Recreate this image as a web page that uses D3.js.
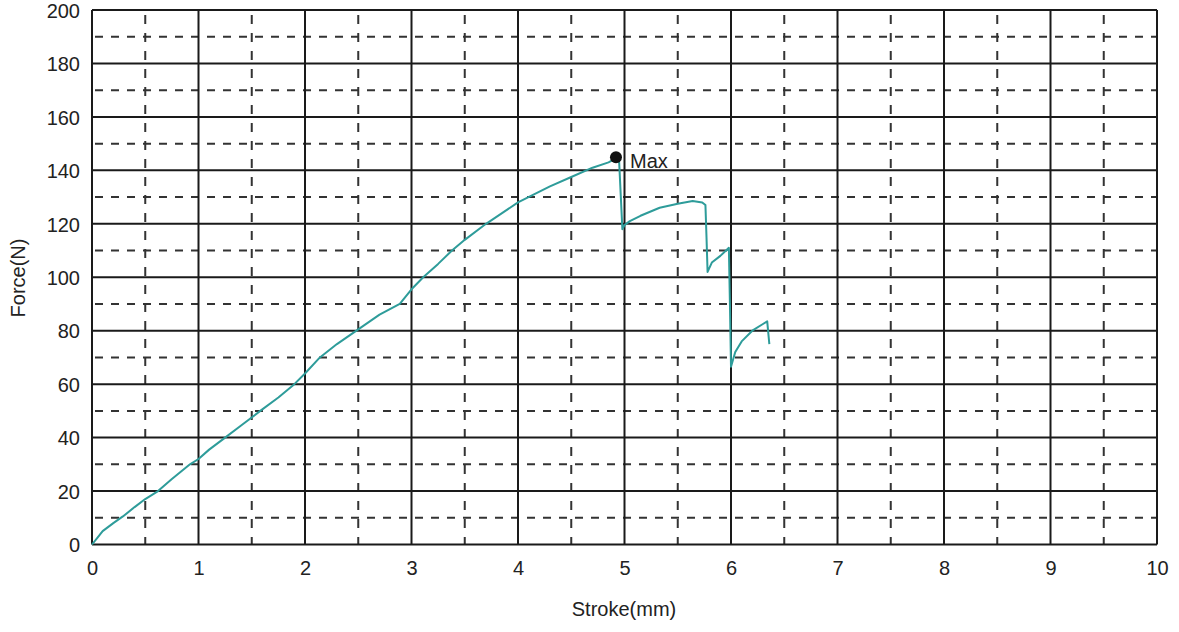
<!DOCTYPE html>
<html>
<head>
<meta charset="utf-8">
<script src="https://cdn.jsdelivr.net/npm/d3@7"></script>
<style>
  body { margin: 0; background: #fff; }
  svg { display: block; font-family: "Liberation Sans", Arial, sans-serif; }
  .tick text { fill: #222; font-size: 20px; }
</style>
</head>
<body>
<div id="chart"></div>
<script>
// stroke (mm) / force (N)
var strokeMm = [0, 0.05, 0.1, 0.2, 0.29, 0.4, 0.5, 0.62, 0.75, 0.92, 1.0, 1.1, 1.25, 1.4, 1.58, 1.75, 1.9, 2.0,
  2.14, 2.3, 2.5, 2.7, 2.89, 3.0, 3.11, 3.25, 3.38, 3.5, 3.7, 3.85, 4.0, 4.15, 4.3, 4.5, 4.7, 4.85, 4.92,
  4.95, 4.98, 5.0, 5.05, 5.15, 5.33, 5.5, 5.64, 5.73, 5.76, 5.77, 5.78, 5.82, 5.9, 5.98, 5.99, 6.0,
  6.04, 6.1, 6.2, 6.3, 6.34, 6.36];
var forceN = [0, 2.5, 5, 8, 10.5, 14, 17, 20, 24.5, 30, 32, 35.5, 40, 44.5, 50, 55, 60, 64,
  70, 75, 80.5, 86, 90, 95.5, 100, 105, 110, 114, 120, 124, 128, 131, 134, 137.5, 141, 143, 144.5,
  143, 118, 119.5, 121, 123, 126, 127.5, 128.5, 128, 127, 115, 102, 105.5, 108, 111, 90, 66.5,
  72, 76, 80, 82.5, 83.5, 75];
var maxPoint = [4.92, 144.9];
var xMajor = [0, 1, 2, 3, 4, 5, 6, 7, 8, 9, 10];
var yMajor = [0, 20, 40, 60, 80, 100, 120, 140, 160, 180, 200];
var xMinor = [0.5, 1.5, 2.5, 3.5, 4.5, 5.5, 6.5, 7.5, 8.5, 9.5];
var yMinor = [10, 30, 50, 70, 90, 110, 130, 150, 170, 190];

var svg = d3.select("#chart").append("svg")
    .attr("width", 1179)
    .attr("height", 632);

var x = d3.scaleLinear().domain([0, 10]).range([92, 1157]);
var y = d3.scaleLinear().domain([0, 200]).range([544.5, 10]);

// dashed minor grid
svg.append("g").selectAll("line")
    .data(yMinor)
  .enter().append("line")
    .attr("x1", x(0)).attr("x2", x(10))
    .attr("y1", function(d) { return y(d); })
    .attr("y2", function(d) { return y(d); })
    .attr("stroke", "#333").attr("stroke-width", 2)
    .attr("stroke-dasharray", "8,8").attr("stroke-dashoffset", -3);

svg.append("g").selectAll("line")
    .data(xMinor)
  .enter().append("line")
    .attr("x1", function(d) { return x(d); })
    .attr("x2", function(d) { return x(d); })
    .attr("y1", y(200)).attr("y2", y(0))
    .attr("stroke", "#333").attr("stroke-width", 2)
    .attr("stroke-dasharray", "9,9").attr("stroke-dashoffset", -5);

// solid major grid
svg.append("g").selectAll("line")
    .data(yMajor)
  .enter().append("line")
    .attr("x1", x(0)).attr("x2", x(10))
    .attr("y1", function(d) { return y(d); })
    .attr("y2", function(d) { return y(d); })
    .attr("stroke", "#1a1a1a").attr("stroke-width", 2);

svg.append("g").selectAll("line")
    .data(xMajor)
  .enter().append("line")
    .attr("x1", function(d) { return x(d); })
    .attr("x2", function(d) { return x(d); })
    .attr("y1", y(200)).attr("y2", y(0))
    .attr("stroke", "#1a1a1a").attr("stroke-width", 2);

// tick labels
var xAxis = svg.append("g")
    .attr("transform", "translate(0," + (y(0) + 8) + ")")
    .call(d3.axisBottom(x).tickValues(xMajor).tickSize(0).tickPadding(8).tickFormat(d3.format("d")));
xAxis.select(".domain").remove();

var yAxis = svg.append("g")
    .attr("transform", "translate(" + (x(0) - 10) + ",0)")
    .call(d3.axisLeft(y).tickValues(yMajor).tickSize(0).tickPadding(2).tickFormat(d3.format("d")));
yAxis.select(".domain").remove();
yAxis.selectAll("text").attr("dy", "0.36em");

// curve
var pts = strokeMm.map(function(s, i) { return [s, forceN[i]]; });
svg.append("path")
    .datum(pts)
    .attr("fill", "none")
    .attr("stroke", "#2e9c9a")
    .attr("stroke-width", 2)
    .attr("stroke-linejoin", "round")
    .attr("d", d3.line()
        .x(function(d) { return x(d[0]); })
        .y(function(d) { return y(d[1]); }));

svg.append("circle")
    .attr("cx", x(maxPoint[0]))
    .attr("cy", y(maxPoint[1]))
    .attr("r", 6)
    .attr("fill", "#111");

svg.append("text")
    .attr("x", x(maxPoint[0]) + 14)
    .attr("y", y(maxPoint[1]) + 11)
    .attr("font-size", 20)
    .attr("fill", "#222")
    .text("Max");

// axis titles
svg.append("text")
    .attr("x", 624)
    .attr("y", 616)
    .attr("text-anchor", "middle")
    .attr("font-size", 20)
    .attr("fill", "#222")
    .text("Stroke(mm)");

svg.append("text")
    .attr("transform", "translate(25,278) rotate(-90)")
    .attr("text-anchor", "middle")
    .attr("font-size", 20)
    .attr("fill", "#222")
    .text("Force(N)");
</script>
</body>
</html>
